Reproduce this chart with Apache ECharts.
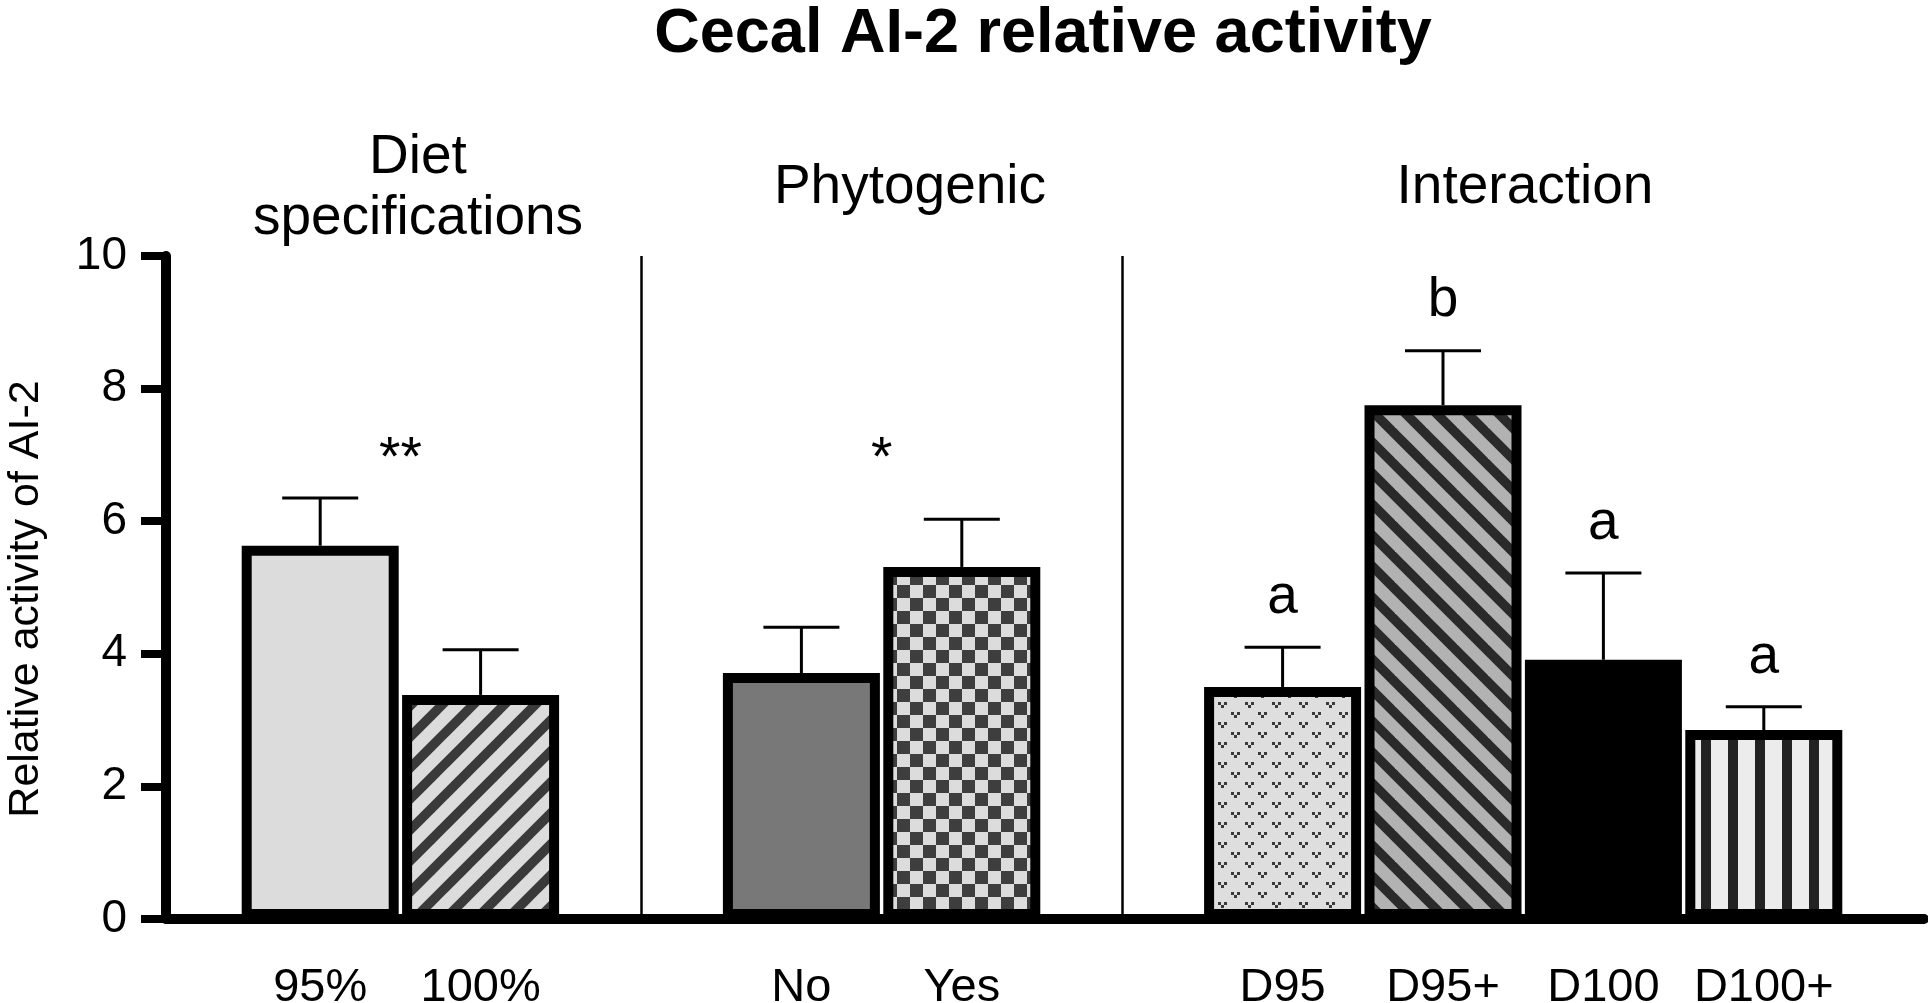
<!DOCTYPE html>
<html lang="en">
<head>
    <meta charset="UTF-8">
    <title>Cecal AI-2 relative activity</title>
    <style>
        html, body { margin: 0; padding: 0; background: #fff; }
    </style>
</head>
<body>
<div id='main' style="height: 1003px;width: 1928px"></div>
</body>
<script src="https://cdn.jsdelivr.net/npm/echarts@6.0.0/dist/echarts.min.js"></script>
<script>
    // data
    var categories = ['95%', '100%', 'No', 'Yes', 'D95', 'D95+', 'D100', 'D100+'];
    var groupNames = ['Diet\nspecifications', 'Phytogenic', 'Interaction'];
    var groupOf = [0, 0, 1, 1, 2, 2, 2, 2];
    var means = [5.63, 3.38, 3.71, 5.31, 3.50, 7.75, 3.91, 2.85];
    var sem = [0.72, 0.68, 0.69, 0.72, 0.60, 0.82, 1.31, 0.35];
    var letters = ['', '', '', '', 'a', 'b', 'a', 'a'];
    var groupStars = ['**', '*', ''];
    var yTicks = [0, 2, 4, 6, 8, 10];

    var FONT = "'Liberation Sans', Arial, Helvetica, sans-serif";

    // fill patterns
    function tile(w, h, draw) {
        var c = document.createElement('canvas');
        c.width = w;
        c.height = h;
        draw(c.getContext('2d'), w, h);
        return {image: c, repeat: 'repeat'};
    }

    function diagonal(bg, fg, p, lw, up) {
        return tile(p, p, function (ctx) {
            ctx.fillStyle = bg;
            ctx.fillRect(0, 0, p, p);
            ctx.strokeStyle = fg;
            ctx.lineWidth = lw;
            for (var k = -1; k <= 1; k++) {
                ctx.beginPath();
                if (up) {
                    ctx.moveTo(k * p - p, 2 * p);
                    ctx.lineTo(k * p + 2 * p, -p);
                } else {
                    ctx.moveTo(k * p - p, -p);
                    ctx.lineTo(k * p + 2 * p, 2 * p);
                }
                ctx.stroke();
            }
        });
    }

    function vee(ctx, x, y) {
        ctx.fillRect(x, y, 3, 3);
        ctx.fillRect(x + 6, y, 3, 3);
        ctx.fillRect(x + 3, y + 3, 3, 3);
    }

    var fills = [
        '#dcdcdc',
        diagonal('#dcdcdc', '#3a3a3a', 31, 9.5, true),
        '#787878',
        tile(26, 26, function (ctx) {
            ctx.fillStyle = '#dcdcdc';
            ctx.fillRect(0, 0, 26, 26);
            ctx.fillStyle = '#3e3e3e';
            ctx.fillRect(0, 0, 13, 13);
            ctx.fillRect(13, 13, 13, 13);
        }),
        tile(27, 20, function (ctx) {
            ctx.fillStyle = '#dedede';
            ctx.fillRect(0, 0, 27, 20);
            ctx.fillStyle = '#3a3a3a';
            vee(ctx, 3, 2);
            vee(ctx, 16, 12);
        }),
        diagonal('#b2b2b2', '#2a2a2a', 31, 9.5, false),
        '#000000',
        tile(27, 10, function (ctx) {
            ctx.fillStyle = '#ececec';
            ctx.fillRect(0, 0, 27, 10);
            ctx.fillStyle = '#222222';
            ctx.fillRect(0, 0, 10, 10);
        })
    ];

    // category axis with a blank slot between groups
    var axisCats = [], barData = [], errData = [], slotOf = [];
    categories.forEach(function (name, i) {
        if (i > 0 && groupOf[i] !== groupOf[i - 1]) {
            axisCats.push('gap' + groupOf[i]);
            barData.push('-');
        }
        slotOf.push(axisCats.length);
        errData.push([axisCats.length, means[i], means[i] + sem[i], letters[i]]);
        axisCats.push(name);
        barData.push({value: means[i], itemStyle: {color: fills[i]}});
    });

    var starData = [];
    groupStars.forEach(function (s, g) {
        var idx = [];
        groupOf.forEach(function (gg, i) { if (gg === g) idx.push(slotOf[i]); });
        if (s) starData.push([idx[0], idx[idx.length - 1], s]);
    });
    var sepData = [];
    axisCats.forEach(function (c, i) {
        if (c.indexOf('gap') === 0) sepData.push({xAxis: i});
    });

    var myChart = echarts.init(document.getElementById('main'), null, {renderer: 'canvas'});

    var option = {
        backgroundColor: '#fff',
        animation: false,
        textStyle: {fontFamily: FONT, color: '#000'},
        grid: [
            {left: 166, right: 4, top: 256, bottom: 84, outerBoundsMode: 'none'},
            {left: 240, right: 84, top: 256, bottom: 84, outerBoundsMode: 'none'}
        ],
        xAxis: [
            {
                gridIndex: 0, type: 'value', min: 0, max: 1,
                axisLine: {show: true, lineStyle: {color: '#000', width: 10}},
                axisTick: {show: false}, axisLabel: {show: false}, splitLine: {show: false}
            },
            {
                gridIndex: 1, type: 'category', data: axisCats,
                axisLine: {show: false}, axisTick: {show: false}, splitLine: {show: false},
                axisLabel: {
                    interval: 0, margin: 46, fontSize: 47, color: '#000', fontFamily: FONT,
                    formatter: function (v) { return v.indexOf('gap') === 0 ? '' : v; }
                }
            }
        ],
        yAxis: [
            {
                gridIndex: 0, type: 'value', min: yTicks[0], max: yTicks[yTicks.length - 1],
                interval: yTicks[1] - yTicks[0],
                axisLine: {show: true, lineStyle: {color: '#000', width: 10}},
                axisTick: {show: true, length: 25, lineStyle: {color: '#000', width: 8}},
                axisLabel: {margin: 39, fontSize: 46, color: '#000', fontFamily: FONT},
                splitLine: {show: false}
            },
            {
                gridIndex: 1, type: 'value', min: yTicks[0], max: yTicks[yTicks.length - 1],
                show: false, splitLine: {show: false}
            }
        ],
        graphic: [
            {
                type: 'text', x: 1043, y: 3, z: 10,
                style: {text: 'Cecal AI-2 relative activity', font: 'bold 63px ' + FONT, fill: '#000', align: 'center', verticalAlign: 'top'}
            },
            {
                type: 'text', x: 26, y: 599, rotation: Math.PI / 2, z: 10,
                style: {text: 'Relative activity of AI-2', font: '43px ' + FONT, fill: '#000', align: 'center', verticalAlign: 'middle'}
            },
            {
                type: 'text', x: 418, y: 188, z: 10,
                style: {text: groupNames[0], font: '55px ' + FONT, fill: '#000', align: 'center', verticalAlign: 'middle', lineHeight: 61}
            },
            {
                type: 'text', x: 910, y: 188, z: 10,
                style: {text: groupNames[1], font: '55px ' + FONT, fill: '#000', align: 'center', verticalAlign: 'middle'}
            },
            {
                type: 'text', x: 1525, y: 188, z: 10,
                style: {text: groupNames[2], font: '55px ' + FONT, fill: '#000', align: 'center', verticalAlign: 'middle'}
            }
        ],
        series: [
            {
                type: 'bar', xAxisIndex: 1, yAxisIndex: 1, z: 3,
                barWidth: 157,
                data: barData,
                itemStyle: {borderColor: '#000', borderWidth: 10},
                markLine: {
                    silent: true, symbol: 'none', label: {show: false},
                    lineStyle: {color: '#000', width: 2.5, type: 'solid'},
                    data: sepData
                }
            },
            {
                type: 'custom', xAxisIndex: 1, yAxisIndex: 1, z: 2,
                data: errData,
                encode: {x: 0, y: [1, 2]},
                renderItem: function (params, api) {
                    var i = api.value(0);
                    var base = api.coord([i, api.value(1)]);
                    var top = api.coord([i, api.value(2)]);
                    var txt = errData[params.dataIndex][3];
                    var ls = {stroke: '#000', lineWidth: 3};
                    var kids = [
                        {type: 'line', shape: {x1: base[0], y1: base[1], x2: top[0], y2: top[1]}, style: ls},
                        {type: 'line', shape: {x1: top[0] - 38, y1: top[1], x2: top[0] + 38, y2: top[1]}, style: ls}
                    ];
                    if (txt) {
                        kids.push({
                            type: 'text', x: top[0], y: top[1] - 22,
                            style: {text: txt, font: '55px ' + FONT, fill: '#000', align: 'center', verticalAlign: 'bottom'}
                        });
                    }
                    return {type: 'group', children: kids};
                }
            },
            {
                type: 'custom', xAxisIndex: 1, yAxisIndex: 1, z: 2,
                data: starData,
                encode: {x: [0, 1]},
                renderItem: function (params, api) {
                    var d = starData[params.dataIndex];
                    var a = api.coord([d[0], 7.05]);
                    var b = api.coord([d[1], 7.05]);
                    return {
                        type: 'text', x: (a[0] + b[0]) / 2, y: a[1] + 8,
                        style: {text: d[2], font: '55px ' + FONT, fill: '#000', align: 'center', verticalAlign: 'middle'}
                    };
                }
            }
        ]
    };
    myChart.setOption(option);
</script>
</html>
